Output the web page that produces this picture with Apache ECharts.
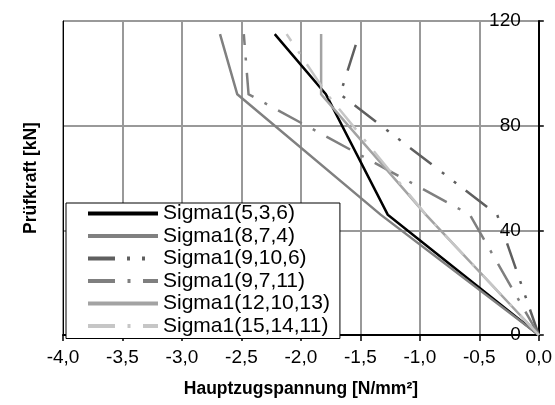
<!DOCTYPE html>
<html>
<head>
<meta charset="utf-8">
<script src="https://cdn.jsdelivr.net/npm/echarts@6/dist/echarts.min.js"></script>
<style>
html,body{margin:0;padding:0;background:#fff;}
#chart{width:555px;height:405px;}
</style>
</head>
<body>
<div id="chart"></div>
<script>
// Shared load levels (Prüfkraft, kN)
const pruefkraft = [0, 46, 92, 115];
// Principal tensile stress (N/mm²) per series
const s_5_3_6    = [0, -1.27, -1.79, -2.22];
const s_8_7_4    = [0, -1.33, -2.535, -2.68];
const s_9_10_6   = [0, -0.35, -1.67, -1.51];
const s_9_7_11   = [0, -0.58, -2.44, -2.48];
const s_12_10_13 = [0, -0.95, -1.83, -1.83];
const s_15_14_11 = [0, -0.95, -1.78, -2.12];
const seriesNames = ['Sigma1(5,3,6)','Sigma1(8,7,4)','Sigma1(9,10,6)','Sigma1(9,7,11)','Sigma1(12,10,13)','Sigma1(15,14,11)'];
const xTicks = [-4, -3.5, -3, -2.5, -2, -1.5, -1, -0.5, 0];
const yTicks = [0, 40, 80, 120];

const FONT = "'Liberation Sans', Arial, sans-serif";
const styles = [
  {color:'#000000', type:'solid', width:2.5},
  {color:'#808080', type:'solid', width:2.5},
  {color:'#5f5f5f', type:[27,12,3,12,3,13], width:2.5},
  {color:'#7f7f7f', type:[27,12.5,3,12.5], width:2.5},
  {color:'#a3a3a3', type:'solid', width:2.5},
  {color:'#c6c6c6', type:[27,12.5,3,12.5], width:2.5}
];
const stressArrays = [s_5_3_6, s_8_7_4, s_9_10_6, s_9_7_11, s_12_10_13, s_15_14_11];

const series = stressArrays.map((arr, i) => ({
  name: seriesNames[i],
  type: 'line',
  yAxisIndex: 0,
  symbol: 'none',
  animation: false,
  data: arr.map((v, j) => [v, pruefkraft[j]]),
  lineStyle: {color: styles[i].color, type: styles[i].type, width: styles[i].width, cap: 'butt', join: 'miter'},
  itemStyle: {color: styles[i].color}
}));

const fmt = v => v.toFixed(1).replace('.', ',');

const chart = echarts.init(document.getElementById('chart'), null, {renderer: 'canvas'});
chart.setOption({
  animation: false,
  backgroundColor: '#fff',
  grid: {left: 63, right: 16, top: 21, bottom: 70, show: true, borderColor: '#000', borderWidth: 1, backgroundColor: 'transparent'},
  xAxis: {
    type: 'value', min: xTicks[0], max: xTicks[xTicks.length-1], interval: 0.5,
    position: 'bottom',
    name: 'Hauptzugspannung [N/mm²]', nameLocation: 'middle', nameGap: 45,
    nameTextStyle: {fontFamily: FONT, fontSize: 17.5, fontWeight: 'bold', color: '#000'},
    axisLine: {show: true, onZero: false, lineStyle: {color: '#000', width: 2}},
    axisTick: {show: true, inside: false, length: 6, lineStyle: {color: '#000', width: 1.5}},
    axisLabel: {fontFamily: FONT, fontSize: 19, color: '#000', margin: 13, formatter: fmt},
    splitLine: {show: true, lineStyle: {color: '#999', width: 2}}
  },
  yAxis: [
    {
      type: 'value', min: yTicks[0], max: yTicks[yTicks.length-1], interval: 40,
      position: 'right',
      axisLine: {show: true, onZero: false, lineStyle: {color: '#000', width: 2}},
      axisTick: {show: true, inside: false, length: 5, lineStyle: {color: '#000', width: 1.5}},
      axisLabel: {inside: true, margin: 18, fontFamily: FONT, fontSize: 19, color: '#000'},
      splitLine: {show: true, lineStyle: {color: '#999', width: 2}}
    },
    {
      type: 'value', min: yTicks[0], max: yTicks[yTicks.length-1], interval: 40,
      position: 'left',
      name: 'Prüfkraft [kN]', nameLocation: 'middle', nameGap: 23, nameRotate: 90,
      nameTextStyle: {fontFamily: FONT, fontSize: 17.5, fontWeight: 'bold', color: '#000'},
      axisLine: {show: true, onZero: false, lineStyle: {color: '#000', width: 1}},
      axisTick: {show: false},
      axisLabel: {show: false},
      splitLine: {show: false}
    }
  ],
  legend: {
    orient: 'vertical',
    left: 66, top: 203,
    padding: [0, 10, 2, 20],
    itemWidth: 70, itemHeight: 14, itemGap: 1.5,
    backgroundColor: '#fff', borderColor: '#000', borderWidth: 1, borderRadius: 0,
    textStyle: {fontFamily: FONT, fontSize: 21, color: '#000', lineHeight: 20},
    itemStyle: {opacity: 0, borderWidth: 0},
    lineStyle: {width: 4},
    data: seriesNames
  },
  series: series
});
</script>
</body>
</html>
